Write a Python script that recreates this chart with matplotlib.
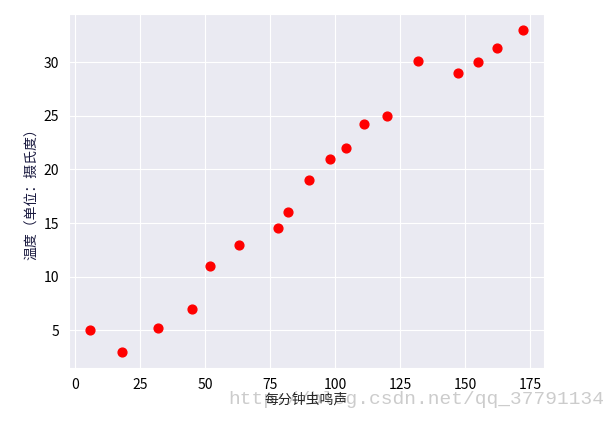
import matplotlib
matplotlib.use('Agg')
import matplotlib.pyplot as plt
import seaborn as sns

# chirps per minute vs temperature
chirps = [6, 18, 32, 45, 52, 63, 78, 82, 90, 98, 104, 111, 120, 132, 147, 155, 162, 172]
temps = [5, 3, 5.2, 7, 11, 13, 14.5, 16, 19, 21, 22, 24.2, 25, 30.1, 29, 30, 31.3, 33]

sns.set_style('darkgrid')
plt.rcParams['font.family'] = ['Noto Sans CJK SC', 'DejaVu Sans']
plt.rcParams['axes.unicode_minus'] = False

fig = plt.figure(figsize=(6.04, 4.21), dpi=100)
ax = fig.add_axes([0.114, 0.126, 0.787, 0.841])
ax.scatter(chirps, temps, color='red', s=40)
ax.set_xticks([0, 25, 50, 75, 100, 125, 150, 175])
ax.set_yticks([5, 10, 15, 20, 25, 30])
ax.tick_params(labelsize=10, labelcolor='black')
ax.set_xlabel('每分钟虫鸣声', fontsize=10, labelpad=1)
ax.set_ylabel('温度（单位：摄氏度）', fontsize=10, color='#1a1a40')

# watermark from the original image
fig.text(0.378, 0.05, 'http://blog.csdn.net/qq_37791134', fontsize=14,
         family='Liberation Mono', color='#cccccc', va='center', ha='left', zorder=-1)

fig.savefig('out.png', dpi=100)
